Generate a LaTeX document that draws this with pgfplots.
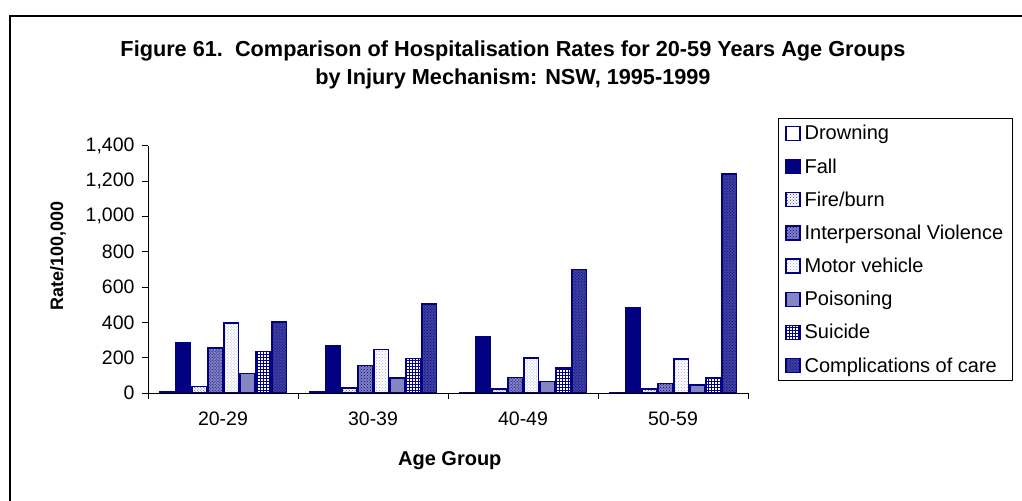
\documentclass[border=0pt]{standalone}
\usepackage{fontspec}
\setmainfont{Liberation Sans}
\usepackage{pgfplots}
\usepackage{pgfplotstable}
\pgfplotsset{compat=1.18}
\usetikzlibrary{patterns}
\definecolor{navy}{HTML}{000080}

\pgfplotstableread{
x drown fall fire iv mv pois suic coc
0 8 283 37 255 396 109 236 402
1 6 270 28 156 245 85 194 505
2 4 320 24 88 198 66 141 698
3 3 481 23 53 192 45 85 1241
}\data

\begin{document}
\begin{tikzpicture}
\useasboundingbox (0bp,0bp) rectangle (1022bp,501bp);
\clip (0bp,0bp) rectangle (1022bp,501bp);
\fill[white] (0bp,0bp) rectangle (1022bp,501bp);
\draw[line width=2.5bp] (10bp,-20bp) rectangle (1040bp,485bp);
\node[font=\bfseries\fontsize{21.7bp}{28bp}\selectfont, align=center] at (513bp,436bp)
  {Figure 61.\ \ Comparison of Hospitalisation Rates for 20-59 Years Age Groups\\ by Injury Mechanism: NSW, 1995-1999};
\begin{axis}[
  at={(148bp,108bp)}, anchor=south west, scale only axis,
  width=600bp, height=247.3bp,
  ymin=0, ymax=1400, ytick={0,200,...,1400},
  xmin=-0.5, xmax=3.5,
  xtick={-0.5,0.5,1.5,2.5,3.5}, xticklabels={20-29,30-39,40-49,50-59,{}},
  xticklabel style={xshift=75bp, yshift=-9bp},
  yticklabel style={xshift=-4bp},
  axis x line=bottom, axis y line=left,
  axis line style={-, black, line width=0.8bp},
  tick align=outside, major tick length=6bp,
  tick style={black, line width=0.8bp},
  ticklabel style={font=\fontsize{19.5bp}{22bp}\selectfont},
  /pgf/number format/.cd, 1000 sep={,}, assume math mode=true, /pgfplots/.cd,
  ybar=1.5bp, bar width=14.5bp,
  every axis plot/.append style={line width=1.5bp},
  xlabel={Age Group}, ylabel={Rate/100,000},
  every axis x label/.style={at={(rel axis cs:0.503,-0.275)}, anchor=center, font=\bfseries\fontsize{20bp}{22bp}\selectfont},
  every axis y label/.style={at={(rel axis cs:-0.150,0.553)}, rotate=90, anchor=center, font=\bfseries\fontsize{18bp}{22bp}\selectfont},
  legend image code/.code={\draw[#1, line width=1.2bp] (0bp,-7bp) rectangle (14bp,7bp);},
  legend cell align=left,
  legend style={at={(rel axis cs:1.05,1.112)}, anchor=north west, draw=black, line width=0.8bp,
    font=\fontsize{20bp}{22bp}\selectfont, row sep=13.2bp, inner xsep=7bp, inner ysep=5bp,
    /tikz/every odd column/.append style={column sep=2bp}},
]
\addplot[fill=white, draw=navy] table[x=x,y=drown]{\data};
\addplot[fill=navy, draw=navy] table[x=x,y=fall]{\data};
\addplot[fill=white, draw=navy, postaction={pattern=crosshatch dots, pattern color=navy!75}] table[x=x,y=fire]{\data};
\addplot[fill=navy!50, draw=navy, postaction={pattern=crosshatch dots, pattern color=navy}] table[x=x,y=iv]{\data};
\addplot[fill=white, draw=navy, postaction={pattern=crosshatch dots, pattern color=navy!35}] table[x=x,y=mv]{\data};
\addplot[fill=navy!48, draw=navy] table[x=x,y=pois]{\data};
\addplot[fill=white, draw=navy, postaction={pattern=grid, pattern color=navy}] table[x=x,y=suic]{\data};
\addplot[fill=navy!75, draw=navy, postaction={pattern=crosshatch dots, pattern color=navy}] table[x=x,y=coc]{\data};
\legend{Drowning,Fall,Fire/burn,Interpersonal Violence,Motor vehicle,Poisoning,Suicide,Complications of care}
\end{axis}
\end{tikzpicture}
\end{document}
